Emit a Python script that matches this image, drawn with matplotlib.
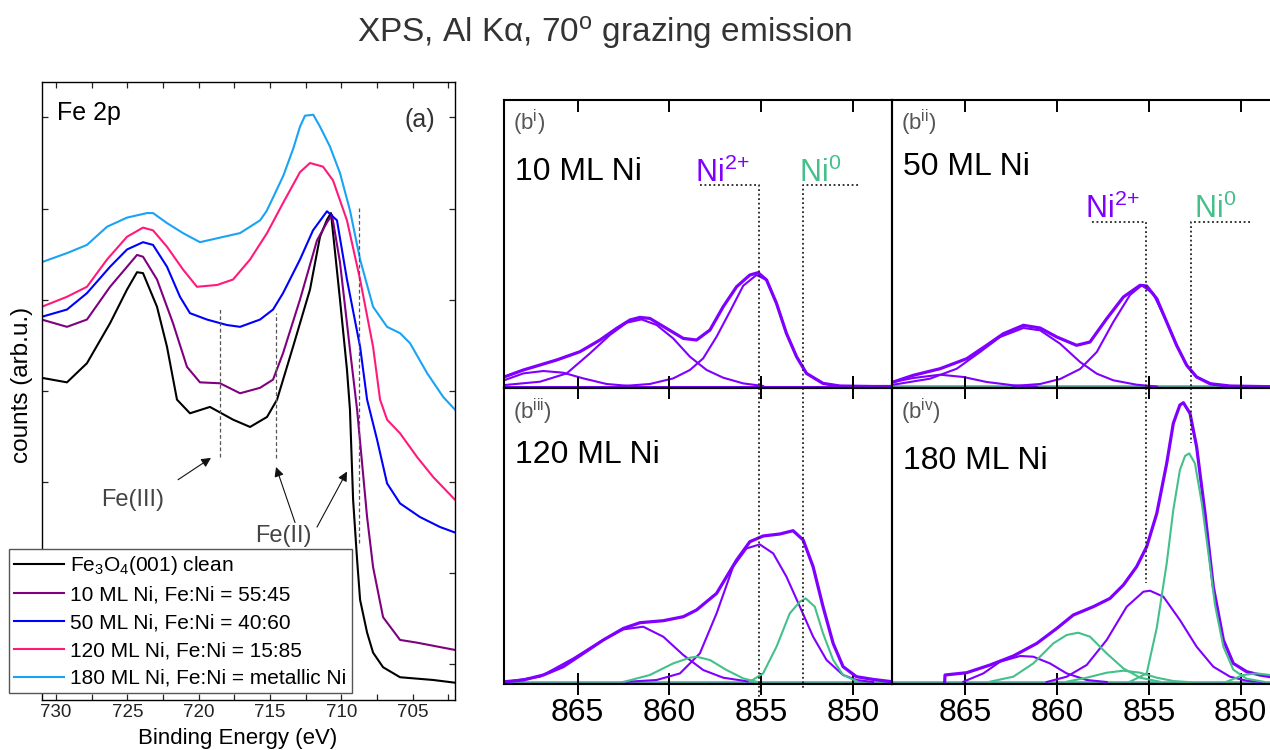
import matplotlib.pyplot as plt
from matplotlib.ticker import MultipleLocator

plt.rcParams['font.family'] = ['Liberation Sans', 'DejaVu Sans']
plt.rcParams['mathtext.fontset'] = 'custom'
plt.rcParams['mathtext.rm'] = 'Liberation Sans'
plt.rcParams['mathtext.it'] = 'Liberation Sans:italic'
plt.rcParams['mathtext.default'] = 'regular'

# ---------------- (a) Fe 2p spectra ----------------
black_be = [731.0, 729.23, 727.83, 726.21, 725.02, 724.32, 723.90, 722.92, 722.22, 721.52,
            720.61, 719.21, 717.59, 716.40, 715.21, 714.51, 713.39, 712.20, 711.50, 711.0,
            710.73, 710.10, 709.61, 709.40, 709.18, 708.90, 708.69, 708.20, 707.78, 707.08,
            705.89, 703.57, 702.04]
black_y = [3.14, 3.09, 3.30, 3.74, 4.11, 4.30, 4.29, 3.92, 3.48, 2.90,
           2.75, 2.82, 2.68, 2.60, 2.71, 2.90, 3.48, 4.11, 4.69, 4.88,
           4.95, 4.00, 3.23, 2.79, 1.80, 1.14, 0.70, 0.34, 0.12, -0.04,
           -0.15, -0.18, -0.21]

purple_be = [731.0, 729.23, 727.83, 726.21, 725.02, 724.32, 723.90, 722.92, 721.80, 720.82,
             719.91, 718.51, 717.10, 715.70, 714.79, 714.09, 712.90, 711.71, 711.0, 710.66,
             710.10, 709.40, 708.90, 708.20, 707.78, 707.08, 705.89, 704.70, 702.04]
purple_y = [3.78, 3.70, 3.78, 4.14, 4.36, 4.49, 4.47, 4.22, 3.74, 3.26,
            3.09, 3.08, 2.97, 3.03, 3.12, 3.41, 4.00, 4.65, 4.85, 4.93,
            4.41, 3.45, 2.79, 1.61, 1.06, 0.51, 0.26, 0.23, 0.15]

blue_be = [731.0, 729.23, 727.83, 726.21, 725.02, 723.90, 723.2, 722.22, 721.31, 720.61,
           719.42, 718.02, 717.10, 715.70, 714.79, 714.09, 712.90, 711.99, 711.01, 710.31,
           709.61, 708.69, 708.20, 707.50, 706.80, 705.89, 704.49, 703.08, 702.04]
blue_y = [3.81, 3.89, 4.07, 4.36, 4.55, 4.63, 4.60, 4.36, 4.03, 3.85,
          3.78, 3.72, 3.70, 3.78, 3.89, 4.07, 4.44, 4.76, 4.97, 4.87,
          4.22, 3.48, 2.90, 2.46, 1.98, 1.76, 1.61, 1.50, 1.44]

pink_be = [731.0, 729.23, 727.83, 726.42, 725.02, 723.90, 723.2, 722.22, 721.10, 720.12,
           718.71, 717.59, 716.40, 715.21, 714.09, 712.90, 712.20, 711.29, 710.59, 709.61,
           708.69, 707.78, 707.29, 706.80, 705.89, 704.70, 703.57, 702.04]
pink_y = [3.92, 4.03, 4.14, 4.44, 4.69, 4.79, 4.76, 4.58, 4.33, 4.14,
          4.16, 4.22, 4.44, 4.73, 5.06, 5.40, 5.50, 5.46, 5.31, 4.87,
          4.22, 3.48, 2.90, 2.68, 2.53, 2.27, 2.05, 1.80]

lblue_be = [731.0, 729.23, 727.83, 726.42, 725.02, 723.62, 723.2, 722.22, 721.10, 719.91,
            718.51, 717.10, 715.70, 715.25, 714.79, 714.07, 713.37, 712.90, 712.55, 711.97,
            711.50, 710.80, 710.10, 709.40, 708.69, 707.78, 706.80, 705.89, 705.19, 703.99,
            702.87, 702.04]
lblue_y = [4.41, 4.51, 4.60, 4.80, 4.90, 4.95, 4.95, 4.84, 4.73, 4.63,
           4.68, 4.73, 4.87, 4.97, 5.12, 5.36, 5.66, 5.90, 6.02, 6.03,
           5.90, 5.68, 5.39, 4.98, 4.44, 3.92, 3.70, 3.63, 3.52, 3.19,
           2.93, 2.79]

fe_labels = ['Fe$_3$O$_4$(001) clean', '10 ML Ni, Fe:Ni = 55:45', '50 ML Ni, Fe:Ni = 40:60',
             '120 ML Ni, Fe:Ni = 15:85', '180 ML Ni, Fe:Ni = metallic Ni']
fe_colors = ['#000000', '#800080', '#0000ff', '#ff1a7a', '#1aa3f5']

# satellite / Fe2+ marker positions
fe_marks = [718.5, 714.6, 708.75]
fe_mark_lo = [2.27, 2.26, 1.33]
fe_mark_hi = [3.92, 3.85, 5.02]

# ---------------- (b) Ni 2p fits ----------------
# (b^i) 10 ML
bi_env_be = [868.95, 867.95, 866.14, 864.87, 863.78, 862.88, 862.15, 861.61, 861.07, 860.16,
             859.25, 858.53, 857.80, 857.08, 856.35, 855.63, 855.18, 854.72, 854.18, 853.64,
             853.09, 852.55, 851.65, 850.74, 848.93, 847.9]
bi_env = [10.0, 16.7, 26.7, 35.0, 46.7, 58.3, 66.7, 69.3, 68.3, 58.3,
          48.3, 46.7, 56.7, 80.0, 100.0, 111.7, 114.0, 106.7, 83.3, 53.3,
          30.0, 13.3, 3.3, 0.7, 0.2, 0.2]
bi_sat_be = [868.95, 867.04, 865.59, 864.33, 863.24, 862.33, 861.52, 860.70, 859.80, 858.89,
             857.98, 857.08, 855.99, 854.91]
bi_sat = [1.7, 5.0, 13.3, 33.3, 51.7, 64.0, 67.3, 61.7, 48.3, 30.0, 16.7, 9.0, 3.3, 0.7]
bi_main_be = [862.51, 861.07, 859.80, 858.89, 858.17, 857.44, 856.72, 855.99, 855.27, 854.72,
              854.18, 853.64, 853.09, 852.55, 851.65, 850.74]
bi_main = [0.7, 2.7, 8.3, 16.7, 28.3, 50.0, 75.0, 101.0, 111.7, 106.7,
           83.3, 53.3, 30.0, 13.3, 3.3, 0.7]
bi_small_be = [868.95, 867.95, 866.86, 865.78, 864.69, 863.42, 862.15]
bi_small = [6.7, 13.3, 15.7, 14.0, 8.3, 2.7, 0.7]

# (b^ii) 50 ML
bii_env_be = [868.93, 867.84, 866.38, 864.93, 863.84, 862.93, 861.84, 860.93, 860.02, 858.94,
              858.21, 857.30, 856.39, 855.48, 855.12, 854.57, 854.03, 853.49, 852.94, 852.40,
              851.67, 850.58, 848.4]
bii_env = [5.0, 11.7, 18.3, 28.3, 41.7, 53.3, 61.7, 59.0, 50.0, 41.7,
           45.0, 68.3, 90.0, 101.7, 101.0, 88.3, 65.0, 41.7, 21.7, 10.0,
           3.3, 1.0, 0.3]
bii_sat_be = [868.93, 866.93, 865.47, 864.20, 863.11, 861.84, 860.93, 859.84, 858.75, 857.84,
              856.94, 855.67, 854.57]
bii_sat = [2.3, 8.3, 18.3, 35.0, 50.0, 59.0, 56.7, 43.3, 25.0, 13.3, 6.7, 2.3, 0.5]
bii_main_be = [862.39, 860.93, 859.84, 858.75, 857.84, 856.94, 856.03, 855.39, 854.76, 854.03,
               853.49, 852.94, 852.40, 851.49, 850.40]
bii_main = [1.0, 3.0, 8.0, 18.0, 35.0, 65.0, 92.0, 101.7, 93.3, 65.0,
            41.7, 21.7, 10.0, 2.3, 0.5]
bii_small_be = [868.93, 867.84, 866.38, 865.11, 863.84, 862.39, 861.11]
bii_small = [5.0, 9.0, 12.3, 10.0, 5.0, 1.7, 0.3]

# (b^iii) 120 ML
biii_env_be = [868.95, 867.95, 866.86, 865.78, 864.69, 863.60, 862.51, 861.61, 860.34, 859.25,
               858.53, 857.44, 856.35, 855.63, 854.91, 854.00, 853.28, 852.73, 852.19, 851.65,
               851.10, 850.56, 849.83, 848.93, 847.9]
biii_env = [1.0, 2.7, 7.7, 16.0, 29.3, 42.7, 54.3, 60.0, 62.0, 66.0,
            72.7, 89.3, 122.7, 141.0, 146.7, 148.7, 152.0, 142.7, 116.0, 76.0,
            39.3, 16.0, 6.0, 3.3, 1.0]
biii_sat_be = [868.95, 867.04, 865.23, 863.78, 862.51, 861.43, 860.34, 859.25, 858.17, 857.08, 855.63]
biii_sat = [0.7, 6.0, 24.3, 41.0, 53.3, 56.0, 46.0, 27.7, 12.7, 5.0, 1.0]
biii_main_be = [862.51, 860.70, 859.43, 858.35, 857.44, 856.54, 855.81, 855.09, 854.36, 853.64,
                852.91, 852.19, 851.46, 850.56, 849.83, 848.93]
biii_main = [0.7, 2.7, 9.3, 29.3, 69.3, 116.0, 134.3, 138.3, 129.3, 106.0,
             76.0, 46.0, 22.7, 7.7, 2.7, 0.7]
biii_ni0_be = [855.63, 854.91, 854.18, 853.46, 852.91, 852.59, 852.10, 851.65, 851.10, 850.56, 849.83]
biii_ni0 = [1.0, 9.3, 36.0, 69.3, 81.0, 84.3, 76.0, 49.3, 22.7, 7.7, 1.7]
biii_ni0sat_be = [862.51, 861.07, 859.80, 858.89, 858.53, 857.80, 856.90, 855.99, 855.27]
biii_ni0sat = [0.7, 7.7, 19.3, 25.0, 26.0, 22.7, 12.7, 4.3, 1.0]

# (b^iv) 180 ML
biv_env_be = [866.13, 866.11, 864.93, 863.66, 862.39, 861.11, 860.02, 859.12, 858.03, 857.12,
              856.39, 855.67, 855.12, 854.57, 854.03, 853.67, 853.31, 853.12, 852.76, 852.40,
              851.94, 851.49, 850.94, 850.40, 849.67, 848.95, 848.40]
biv_env = [1.0, 7.7, 10.0, 17.7, 26.7, 39.3, 54.3, 67.7, 76.0, 84.3,
           97.7, 116.0, 136.0, 169.3, 219.3, 259.3, 277.7, 280.0, 269.3, 236.0,
           169.3, 96.0, 42.7, 19.3, 11.0, 7.7, 6.0]
biv_psat_be = [865.11, 864.02, 863.11, 862.02, 861.30, 860.39, 859.48, 858.39, 857.30]
biv_psat = [1.0, 9.3, 21.0, 26.7, 26.0, 19.3, 9.3, 2.7, 0.7]
biv_gsat_be = [863.66, 862.39, 861.30, 860.21, 859.48, 858.85, 858.21, 857.30, 856.39, 855.48, 854.40]
biv_gsat = [1.0, 6.0, 19.3, 39.3, 47.7, 50.0, 46.0, 29.3, 14.3, 5.0, 1.0]
biv_gsmall_be = [859.48, 858.39, 857.30, 856.39, 855.48, 854.57, 853.67, 852.76]
biv_gsmall = [1.0, 5.0, 10.0, 12.0, 10.0, 5.0, 1.7, 0.5]
biv_main_be = [860.57, 859.48, 858.39, 857.30, 856.21, 855.30, 854.94, 854.21, 853.31, 852.40,
               851.49, 850.58, 849.67, 848.77]
biv_main = [0.7, 6.0, 17.7, 42.7, 76.0, 91.0, 92.0, 86.0, 62.7, 36.0, 16.0, 6.0, 2.0, 0.5]
biv_ni0_be = [856.03, 855.12, 854.57, 854.03, 853.67, 853.31, 853.03, 852.80, 852.49, 852.12,
              851.76, 851.40, 850.94, 850.40, 849.67, 848.77]
biv_ni0 = [1.0, 9.3, 55.0, 119.3, 172.7, 212.7, 226.7, 229.3, 219.3, 180.0,
           130.0, 78.0, 36.0, 13.0, 4.0, 1.0]
biv_gright_be = [850.76, 849.86, 849.13, 848.40]
biv_gright = [1.0, 7.7, 9.3, 7.7]

# peak marker positions (eV)
ni2_left, ni0_left = 855.15, 852.75
ni2_right, ni0_right = 855.15, 852.72

NI2 = '#8000ff'
NI0 = '#44c08a'

W, H = 1270, 750


def box(l, r, t, b):
    return [l / W, 1 - b / H, (r - l) / W, (b - t) / H]


fig = plt.figure(figsize=(12.7, 7.5), dpi=100)

# ---------------- panel (a) ----------------
ax = fig.add_axes(box(41.7, 455, 82, 700))
for be, yy, c, lab in zip([black_be, purple_be, blue_be, pink_be, lblue_be],
                          [black_y, purple_y, blue_y, pink_y, lblue_y], fe_colors, fe_labels):
    ax.plot(be, yy, color=c, lw=1.5, label=lab)
ax.vlines(fe_marks, fe_mark_lo, fe_mark_hi, colors='#555555', linestyles=(0, (3, 2)), lw=0.9)
ax.set_xlim(731, 702.04)
ax.set_ylim(-0.4, 6.39)
ax.xaxis.set_major_locator(MultipleLocator(5))
ax.xaxis.set_minor_locator(MultipleLocator(2.5))
ax.yaxis.set_major_locator(MultipleLocator(1))
ax.set_yticklabels([])
ax.tick_params(which='both', direction='in', length=4.3, width=0.9, top=True, right=True,
               labelsize=13.5, pad=3, colors='#222')
for s in ax.spines.values():
    s.set_linewidth(1.0)
ax.set_xlabel('Binding Energy (eV)', fontsize=16)
ax.xaxis.set_label_coords(0.473, -0.046)
ax.set_ylabel('counts (arb.u.)', fontsize=17.5)
ax.yaxis.set_label_coords(-0.02, 0.51)
ax.text(0.037, 0.95, 'Fe 2p', transform=ax.transAxes, fontsize=18, va='center')
ax.text(0.952, 0.938, '(a)', transform=ax.transAxes, fontsize=18, va='center', ha='right',
        color='#333')

ax.text(724.6, 1.80, 'Fe(III)', fontsize=17, ha='center', va='center', color='#444')
ax.text(714.09, 1.40, 'Fe(II)', fontsize=17, ha='center', va='center', color='#444')
arrow = dict(arrowstyle='-|>', color='#111', lw=0.8, mutation_scale=14, shrinkA=0, shrinkB=0)
ax.annotate('', xy=(719.14, 2.26), xytext=(721.45, 2.02), arrowprops=arrow)
ax.annotate('', xy=(714.58, 2.16), xytext=(713.25, 1.55), arrowprops=arrow)
ax.annotate('', xy=(709.61, 2.11), xytext=(711.71, 1.50), arrowprops=arrow)

ax.legend(loc='lower left', bbox_to_anchor=(9 / W, 57 / H), bbox_transform=fig.transFigure,
          fontsize=15, fancybox=False, edgecolor='#555', framealpha=1, borderpad=0.25,
          labelspacing=0.42, handlelength=2.4, handletextpad=0.3, borderaxespad=0)

# ---------------- panels (b) ----------------
b1 = fig.add_axes(box(504, 892, 100, 388))
b2 = fig.add_axes(box(892, 1270, 100, 388))
b3 = fig.add_axes(box(504, 892, 388, 684))
b4 = fig.add_axes(box(892, 1270, 388, 684))

b1.set_ylim(-1.3, 286.7)
b2.set_ylim(-1.0, 287.0)
b3.set_ylim(-1.3, 294.7)
b4.set_ylim(-1.3, 294.7)
b1.set_xlim(869, 847.9)
b3.set_xlim(869, 847.9)
b2.set_xlim(869, 848.4)
b4.set_xlim(869, 848.4)

for b in [b1, b2, b3, b4]:
    b.set_facecolor('none')
    b.set_yticks([])
    b.xaxis.set_major_locator(MultipleLocator(5))
    for s in b.spines.values():
        s.set_linewidth(1.5)
    b.axhline(0, color=NI2, lw=2.2, zorder=1)
for b in [b2, b4]:
    b.spines['right'].set_visible(False)
for b in [b1, b2]:
    b.tick_params(axis='x', direction='in', length=8.6, width=1.4, top=True, labelbottom=False)
for b in [b3, b4]:
    b.tick_params(axis='x', direction='inout', length=16.5, width=1.4, top=True,
                  labelsize=23, pad=2)
for b in [b2, b3, b4]:
    b.axhline(0.6, color=NI0, lw=1.2, zorder=1)

lw_c = 1.5
# b^i
b1.plot(bi_env_be, bi_env, color=NI2, lw=2.3)
b1.plot(bi_sat_be, bi_sat, color=NI2, lw=lw_c)
b1.plot(bi_main_be, bi_main, color=NI2, lw=lw_c)
b1.plot(bi_small_be, bi_small, color=NI2, lw=lw_c)
# b^ii
b2.plot(bii_env_be, bii_env, color=NI2, lw=2.3)
b2.plot(bii_sat_be, bii_sat, color=NI2, lw=lw_c)
b2.plot(bii_main_be, bii_main, color=NI2, lw=lw_c)
b2.plot(bii_small_be, bii_small, color=NI2, lw=lw_c)
# b^iii
b3.plot(biii_env_be, biii_env, color=NI2, lw=2.3)
b3.plot(biii_sat_be, biii_sat, color=NI2, lw=lw_c)
b3.plot(biii_main_be, biii_main, color=NI2, lw=lw_c)
b3.plot(biii_ni0_be, biii_ni0, color=NI0, lw=lw_c)
b3.plot(biii_ni0sat_be, biii_ni0sat, color=NI0, lw=lw_c)
# b^iv
b4.plot(biv_env_be, biv_env, color=NI2, lw=2.3)
b4.plot(biv_psat_be, biv_psat, color=NI2, lw=lw_c)
b4.plot(biv_main_be, biv_main, color=NI2, lw=lw_c)
b4.plot(biv_gsat_be, biv_gsat, color=NI0, lw=lw_c)
b4.plot(biv_gsmall_be, biv_gsmall, color=NI0, lw=lw_c)
b4.plot(biv_ni0_be, biv_ni0, color=NI0, lw=lw_c)
b4.plot(biv_gright_be, biv_gright, color=NI0, lw=lw_c)

# dotted peak markers
dot = dict(color='#222', lw=1.3, ls=(0, (1, 1.5)), clip_on=False)
b1.plot([858.35, ni2_left, ni2_left], [201.7, 201.7, -1.3], **dot)
b1.plot([849.76, ni0_left, ni0_left], [201.7, 201.7, -1.3], **dot)
b3.plot([ni2_left, ni2_left], [294.7, -15.3], **dot)
b3.plot([ni0_left, ni0_left], [294.7, -5.3], **dot)
b2.plot([858.1, ni2_right, ni2_right], [165.3, 165.3, -1.0], **dot)
b2.plot([849.5, ni0_right, ni0_right], [165.3, 165.3, -1.0], **dot)
b4.plot([ni2_right, ni2_right], [294.7, 99.7], **dot)
b4.plot([ni0_right, ni0_right], [294.7, 239.7], **dot)

ni2_txt = 'Ni$^{2\\!+}$'
b1.text(857.1, 205, ni2_txt, color=NI2, fontsize=22, ha='center', va='baseline')
b1.text(851.8, 205, 'Ni$^{0}$', color=NI0, fontsize=22, ha='center', va='baseline')
b2.text(856.96, 169, ni2_txt, color=NI2, fontsize=22, ha='center', va='baseline')
b2.text(851.4, 169, 'Ni$^{0}$', color=NI0, fontsize=22, ha='center', va='baseline')

for b, tag, name, ny in [(b1, 'i', '10 ML Ni', 0.75), (b2, 'ii', '50 ML Ni', 0.767),
                         (b3, 'iii', '120 ML Ni', 0.772), (b4, 'iv', '180 ML Ni', 0.755)]:
    b.text(0.024, 0.92, '(b$^{' + tag + '}$)', transform=b.transAxes, fontsize=16,
           color='#555', va='center')
    b.text(0.028, ny, name, transform=b.transAxes, fontsize=23, va='center')

fig.text(0.476, 0.957, 'XPS, Al K\u03b1, 70$^{o}$ grazing emission', ha='center', va='center',
         fontsize=24, color='#333')

fig.savefig('out.png', dpi=100)
